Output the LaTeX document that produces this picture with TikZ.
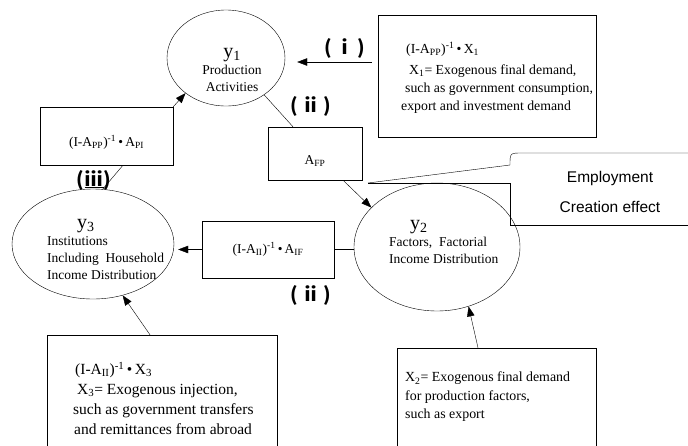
\documentclass[tikz,border=0pt]{standalone}
\usepackage{fontspec}
\setmainfont{Liberation Serif}
\newfontfamily\calfont{Liberation Sans}
\newfontfamily\numfont{Noto Sans CJK JP}
\usetikzlibrary{shapes.geometric,arrows.meta}

\newcommand{\ybig}[1]{{\fontsize{20}{17}\selectfont y\textsubscript{#1}}}
\newcommand{\invpp}{(I-A\textsubscript{PP})\textsuperscript{-1}\,•\,}
\newcommand{\invii}{(I-A\textsubscript{II})\textsuperscript{-1}\,•\,}

\begin{document}
\begin{tikzpicture}[x=1pt,y=-1pt,
    sector/.style={draw,ellipse,inner sep=0pt},
    matbox/.style={draw,rectangle,inner sep=0pt},
    body/.style={font=\fontsize{13.5}{17}\selectfont,inner sep=0pt},
    flow/.style={-{Triangle[length=10pt,width=7.5pt]}},
    numlab/.style={font=\fontsize{19}{19}\selectfont\numfont\bfseries,inner sep=0pt}]
  \useasboundingbox (0,0) rectangle (688,445);
  \clip (0,0) rectangle (688,445);

  % sectors
  \node [sector, minimum width=118pt, minimum height=96pt] (y1) at (226,58) {};
  \node [body, align=center] (y1txt) at (232,70) {\ybig{1}\\Production\\Activities};
  \node [sector, minimum width=166pt, minimum height=128pt] (y2) at (437,247) {};
  \node [body, align=left, anchor=west] (y2txt) at (389,242)
    {\hspace{21pt}\ybig{2}\\Factors,\ \ Factorial\\Income Distribution};
  \node [sector, minimum width=162pt, minimum height=110pt] (y3) at (93,244) {};
  \node [body, align=left, anchor=west] (y3txt) at (47,249)
    {\hspace{30pt}\ybig{3}\\Institutions\\Including\ \ Household\\Income Distribution};

  % multiplier boxes
  \node [matbox, minimum width=218pt, minimum height=122pt] (x1box) at (487,76) {};
  \node [body, font=\fontsize{13.8}{18}\selectfont, align=left, anchor=west] (x1txt) at (401,78)
    {\hspace{5pt}\invpp X\textsubscript{1}\\[3pt]
     \hspace{8pt}X\textsubscript{1}= Exogenous final demand,\\
     \hspace{4pt}such as government consumption,\\
     export and investment demand};
  \node [matbox, body, minimum width=94pt, minimum height=53pt,
    text height=23pt, text depth=2pt] (afp) at (315,153.5) {A\textsubscript{FP}};
  \node [matbox, body, minimum width=133pt, minimum height=58pt,
    text height=23pt, text depth=2pt] (api) at (106.5,136) {\invpp A\textsubscript{PI}};
  \node [matbox, body, minimum width=132pt, minimum height=57pt] (iif) at (268,249.5)
    {\invii A\textsubscript{IF}};
  \node [matbox, minimum width=230pt, minimum height=155pt] (x3box) at (162,412.5) {};
  \node [body, font=\fontsize{15.5}{20}\selectfont, align=left, anchor=north west] (x3txt) at (73,362)
    {\hspace{2pt}\invii X\textsubscript{3}\\
     \hspace{4pt}X\textsubscript{3}= Exogenous injection,\\
     such as government transfers\\
     \hspace{1pt}and remittances from abroad};
  \node [matbox, minimum width=199pt, minimum height=142pt] (x2box) at (496.5,419) {};
  \node [body, font=\fontsize{13.9}{18.5}\selectfont, align=left, anchor=north west] (x2txt) at (405,372)
    {X\textsubscript{2}= Exogenous final demand\\
     for production factors,\\
     such as export};

  % connectors
  \coordinate (x1out) at ([yshift=14pt]x1box.west);
  \draw [flow, shorten <=6pt, shorten >=12pt] (x1out) -- (x1out -| y1.east);
  \draw (y1.-44) -- ([xshift=-22pt]afp.north);
  \draw [flow] ([xshift=28pt]afp.south) -- (y2.149);
  \draw [flow] (api.north east) -- (y1.221);
  \draw (y3.80) -- ([xshift=16.5pt]api.south);
  \draw (iif.east) -- (iif.east -| y2.west);
  \draw [flow, shorten >=4pt] (iif.west) -- (iif.west -| y3.east);
  \draw [flow] ([xshift=-12pt]x3box.north) -- (y3.-60);
  \draw [flow] ([xshift=-18.5pt]x2box.north) -- (y2.-62);

  % labels
  \node [numlab] (li) at (345,48) {(\,ⅰ\,)};
  \node [numlab] (lii) at (311,106) {(\,ⅱ\,)};
  \node [numlab] (liib) at (311,295) {(\,ⅱ\,)};
  \node [numlab] (liii) at (94,180) {(\underline{ⅲ})};

  % callout
  \coordinate (tip) at (368,183);
  \draw (tip) -- (510,165) .. controls (510,153) .. (522,153) -- (700,153);
  \draw (tip) -- (510,183) -- (510,225) -- (700,225);
  \node [font=\fontsize{15.5}{30}\selectfont\calfont, align=center] (emp) at (610,192)
    {Employment\\Creation effect};
\end{tikzpicture}
\end{document}
